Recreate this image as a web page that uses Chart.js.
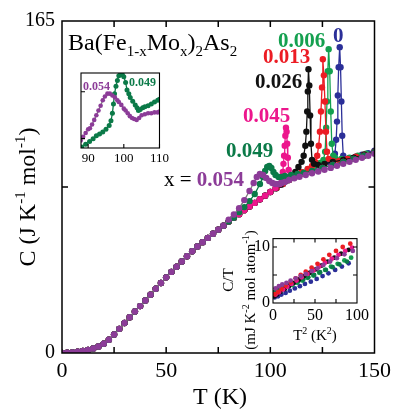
<!DOCTYPE html>
<html><head><meta charset="utf-8">
<script src="https://cdn.jsdelivr.net/npm/chart.js@4"></script>
<style>
html,body{margin:0;padding:0;background:#fff;}
#wrap{position:relative;width:396px;height:412px;overflow:hidden;}
canvas{position:absolute;}
</style></head><body>
<div id="wrap">
<canvas id="main" width="396" height="412" style="left:0;top:0;width:396px;height:412px"></canvas>
<canvas id="ins1" width="106" height="106" style="left:66px;top:64px;width:106px;height:106px"></canvas>
<canvas id="ins2" width="150" height="100" style="left:222px;top:226px;width:150px;height:100px"></canvas>
</div>
<script>
const FONT = '"Liberation Serif","Times New Roman",serif';

// ---- main panel: common low-T lattice curve (T in K, C in J/K/mol) ----
const baseT = [0,2.5,5,7.5,10,12.5,15,17.5,20,22.5,25,27.5,30,32.5,35,37.5,40,42.5,45,47.5,50,52.5,55,57.5,60,62.5,65,67.5,70,72.5,75,77.5,80,82.5,85];
const baseC = [0,0.1,0.3,0.6,1.0,1.5,2.2,3.2,4.6,6.6,9.2,12.0,14.9,17.8,20.6,23.3,26.1,29.0,31.9,34.8,37.6,40.3,42.9,45.5,48.1,50.6,52.9,55.1,57.2,59.3,61.3,63.3,65.3,67.2,69.0];

// ---- per-composition parts above the common curve ----
const x054T = [80,82.5,85,87.5,90,92,93.5,95,96.5,98,99.5,101,102.5,104,105.5,107,109,111.5,114,117,120,123,126,129,132,135,138,141,144,147,150];
const x054C = [66.3,68.8,72,76,80.5,84.5,87.5,89,88.5,87,85.5,84.5,84,84,84.5,85,86,86.8,87.6,88.5,89.3,90.2,91.1,92,93,94,95,96,97,98,99];
const x049T = [85,87.5,90,92.5,95,96.5,97.5,98.5,99.5,100.5,101.5,102.5,104,105.5,107,110,113,116,120,125,130,135,140,145,150];
const x049C = [70,72.5,75.5,79,84,87.5,90.5,92.5,93,92,90,88.5,87.5,87.5,88,88.5,89,89.5,90.5,92,93.5,95,96.5,98,99.8];
const x045T = [87.5,90,92.5,95,97.5,100,102.5,104.5,105.5,106,106.3,106.6,106.9,107.2,107.5,107.8,108.1,108.4,108.8,109.5,111,113,116,120,125,130,135,140,145,150];
const x045C = [71,72.8,74.6,76.4,78.2,80,82,84,86.5,90,94,98,103,108,112,110,104,97,91,88,87.5,88,89,90.5,92,93.5,95,96.5,98,99.8];
const x026T = [87.5,90,92.5,95,97.5,100,102.5,105,107.5,110,112,113.5,115,116,116.8,117.3,117.7,118,118.3,118.7,119.1,119.5,120,121,123,126,130,135,140,145,150];
const x026C = [71,72.8,74.6,76.4,78.2,80,81.8,83.6,85.5,87.5,90,92.5,95,98,103,110,120,130,141,133,118,104,96,94,93.5,94,95,96,97,98.5,100];
const x013T = [87.5,90,92.5,95,97.5,100,103,106,109,112,115,118,120,121.5,122.5,123.2,123.8,124.3,124.8,125.2,125.7,126.2,126.7,127.2,128,130,133,137,141,145,150];
const x013C = [71,72.8,74.6,76.4,78.2,80,82,84,86,88,89.8,91.5,93,95,98,103,110,120,132,146,138,125,110,100,96.5,95.5,95.5,96.5,97.5,98.5,100];
const x006T = [87.5,90,92.5,95,97.5,100,103,106,109,112,115,118,121,124,125.5,126.3,126.8,127.2,127.6,128,128.5,129,129.5,130.2,131,134,138,142,146,150];
const x006C = [71,72.8,74.6,76.4,78.2,80,82,84,86,88,89.8,91.3,92.8,94.5,96,100,112,125,140,151,140,120,104,98,97,96.5,97,98,99,100];
const x000T = [87.5,90,92.5,95,97.5,100,103,106,109,112,115,118,121,125,128,130,131,131.6,132,132.4,132.8,133.3,133.7,134.1,134.5,135,136,138,141,144,147,150];
const x000C = [71,72.8,74.6,76.4,78.2,80,82,84,86,88,89.8,91.3,92.5,93.8,95,96.5,99,106,115,128,142,152,142,125,108,98,96.5,96.5,97.5,98.5,99.3,100.5];

const xTicks = [0,50,100,150];
const yTicks = [0,165];

// ---- inset 1 (0.049 and 0.054 near the anomaly) ----
const i1gT = [88.2,89.3,90.4,91.4,92.3,93.2,94.1,95,95.9,96.4,96.8,97.1,97.4,97.8,98.2,98.6,99.1,99.6,100,100.5,100.9,101.4,101.8,102.5,103.2,103.7,104.1,104.6,105.3,105.9,106.8,107.7,108.6,109.5,110];
const i1gC = [84.1,84.4,84.7,85,85.3,85.5,85.7,86,86.4,86.9,87.7,88.7,89.8,90.6,91.2,91.7,91.9,91.8,91.6,91,90.2,89.8,89.4,89,88.6,88.3,88,88.1,88.3,88.4,88.5,88.7,88.9,89.1,89.2];
const i1pT = [87.9,88.6,89.3,90,90.5,91.1,91.7,92.3,92.9,93.5,94.1,94.7,95.4,96.1,96.8,97.5,98.2,98.6,99.3,100,100.5,101.1,101.7,102.3,102.9,103.6,104.3,105,105.9,106.8,107.7,108.6,109.5,110];
const i1pC = [84.8,85.2,85.6,86,86.1,86.5,87,87.5,88,88.5,89.1,89.5,89.8,89.8,89.6,89.4,89.1,88.9,88.6,88.2,88,87.7,87.4,87.2,87.1,87,87.2,87.5,87.6,87.7,87.7,87.8,87.8,87.9];

// ---- inset 2 (C/T vs T^2) ----
const i2T_054 = [3,7,11,16,21,27,33,39,46,53,60,68,76,85,95];
const i2C_054 = [2.6,3.0,3.3,3.6,4.0,4.4,4.8,5.2,5.7,6.2,6.8,7.4,8.0,8.7,9.3];
const i2T_013 = [2,6,10,15,21,27,33,39,46,53,60,67,75,83,92];
const i2C_013 = [1.6,2.0,2.5,3.1,3.7,4.4,5.0,5.6,6.3,7.0,7.8,8.6,9.3,10.0,10.6];
const i2T_045 = [3,7,12,17,22,28,34,41,48,55,62,70,78,86,94];
const i2C_045 = [1.5,1.9,2.4,2.9,3.4,4.0,4.6,5.2,5.8,6.5,7.2,7.9,8.6,9.3,9.9];
const i2T_026 = [2,5,9,14,19,25,31,37,44,51,58,65,73,81,90];
const i2C_026 = [1.2,1.5,2.0,2.5,3.0,3.6,4.2,4.8,5.4,6.0,6.7,7.4,8.1,8.8,9.5];
const i2T_049 = [2,6,10,14,19,24,30,36,42,49,56,63,71,79,88];
const i2C_049 = [2.0,2.3,2.6,2.9,3.2,3.5,3.9,4.2,4.6,5.0,5.5,5.9,6.4,6.9,7.4];
const i2T_006 = [3,8,13,18,23,29,35,41,48,55,62,69,77,85,93];
const i2C_006 = [1.8,2.1,2.5,2.9,3.2,3.6,4.0,4.5,4.9,5.4,5.9,6.5,7.0,7.6,8.1];
const i2T_000 = [2,6,10,15,20,26,32,38,45,52,59,66,74,82,90];
const i2C_000 = [1.0,1.2,1.5,1.8,2.2,2.6,3.0,3.4,3.8,4.3,4.8,5.3,5.9,6.5,7.1];

const COL = {x000:'#2b2f98', x006:'#14a04f', x013:'#ec1c24', x026:'#111111', x045:'#ec168c', x049:'#0b7a48', x054:'#8c3c98', gray:'#7b7b7b'};

function withBase(cut, T, C){
  const t=[], c=[];
  baseT.forEach((v,i)=>{ if(v<=cut){ t.push(v); c.push(baseC[i]); } });
  return [t.concat(T), c.concat(C)];
}
function ds(T, C, color, line, r, showLine){
  return {data:T.map((t,i)=>({x:t,y:C[i]})), borderColor:line||color, backgroundColor:color,
    pointBackgroundColor:color, pointBorderColor:color, pointBorderWidth:0, pointRadius:r,
    borderWidth:1.3, showLine:showLine!==false, tension:0};
}
function rich(ctx, x, y, parts, align, rot){
  ctx.save(); ctx.translate(x,y); if(rot) ctx.rotate(rot);
  ctx.textBaseline='alphabetic'; ctx.textAlign='left';
  let w=0;
  parts.forEach(p=>{ ctx.font=(p[3]?'bold ':'')+p[1]+'px '+FONT; w+=ctx.measureText(p[0]).width; });
  let cx = align==='center' ? -w/2 : 0;
  parts.forEach(p=>{ ctx.font=(p[3]?'bold ':'')+p[1]+'px '+FONT; ctx.fillStyle=p[4]||'#000';
    ctx.fillText(p[0],cx,p[2]); cx+=ctx.measureText(p[0]).width; });
  ctx.restore();
}
function frameTicks(chart, xs, ys, len, lw, both){
  const {ctx, chartArea:a, scales:{x,y}} = chart;
  ctx.save(); ctx.strokeStyle='#000'; ctx.lineWidth=lw; ctx.beginPath();
  xs.forEach(v=>{ const p=x.getPixelForValue(v); ctx.moveTo(p,a.bottom); ctx.lineTo(p,a.bottom-len); if(both){ctx.moveTo(p,a.top); ctx.lineTo(p,a.top+len);} });
  ys.forEach(v=>{ const p=y.getPixelForValue(v); ctx.moveTo(a.left,p); ctx.lineTo(a.left+len,p); if(both){ctx.moveTo(a.right,p); ctx.lineTo(a.right-len,p);} });
  ctx.stroke();
  ctx.strokeRect(a.left,a.top,a.width,a.height);
  ctx.restore();
}
const whiteBg = {id:'whiteBg', beforeDraw(c){ const a=c.chartArea; c.ctx.save(); c.ctx.fillStyle='#fff'; c.ctx.fillRect(a.left,a.top,a.width,a.height); c.ctx.restore(); }};

// ---------------- main chart ----------------
const mainSets = [
  [withBase(77.5,x054T,x054C), COL.x054, COL.gray],
  [withBase(82.5,x049T,x049C), COL.x049],
  [withBase(85,x045T,x045C), COL.x045],
  [withBase(85,x026T,x026C), COL.x026],
  [withBase(85,x013T,x013C), COL.x013],
  [withBase(85,x006T,x006C), COL.x006],
  [withBase(85,x000T,x000C), COL.x000]
].map(s=>ds(s[0][0], s[0][1], s[1], s[2], 3.2));

const mainDeco = {id:'mainDeco', afterDraw(c){
  const ctx=c.ctx;
  frameTicks(c,[25,50,75,100,125],[82.5],6,1.5,true);
  // title formula
  rich(ctx,68,50,[['Ba(Fe',24,0],['1-x',15,6],['Mo',24,0],['x',15,6],[')',24,0],['2',15,6],['As',24,0],['2',15,6]]);
  // axis titles
  rich(ctx,35,197,[['C (J K',24,0],['-1',15,-10],[' mol',24,0],['-1',15,-10],[')',24,0]],'center',-Math.PI/2);
  rich(ctx,220,404,[['T (K)',24,0]],'center');
  // composition labels
  rich(ctx,333,42,[['0',21,0,true,COL.x000]]);
  rich(ctx,278,47,[['0.006',21,0,true,COL.x006]]);
  rich(ctx,263,63,[['0.013',21,0,true,COL.x013]]);
  rich(ctx,255,88,[['0.026',21,0,true,COL.x026]]);
  rich(ctx,243,122,[['0.045',21,0,true,COL.x045]]);
  rich(ctx,226,157,[['0.049',21,0,true,COL.x049]]);
  rich(ctx,164,186,[['x = ',21,0,false,'#000'],['0.054',21,0,true,COL.x054]]);
  // inset 2 axis titles
  rich(ctx,233,280,[['C/T',15,0]],'center',-Math.PI/2);
  rich(ctx,255,290,[['(mJ K',15,0],['-2',10,-6],[' mol atom',15,0],['-1',10,-6],[')',15,0]],'center',-Math.PI/2);
  rich(ctx,315,340,[['T',15,0],['2',10,-6],[' (K',15,0],['2',10,-6],[')',15,0]],'center');
}};

new Chart(document.getElementById('main'),{
  type:'scatter',
  data:{datasets:mainSets},
  options:{animation:false,responsive:false,
    layout:{padding:{left:0,right:19,top:21,bottom:0}},
    plugins:{legend:{display:false},tooltip:{enabled:false}},
    scales:{
      x:{type:'linear',min:0,max:150,
        afterBuildTicks:s=>{s.ticks=xTicks.map(v=>({value:v}));},
        grid:{display:false,drawTicks:false},border:{display:false},
        ticks:{font:{family:FONT,size:22},color:'#000',padding:5,maxRotation:0,autoSkip:false},
        afterFit:s=>{s.height=59;}},
      y:{type:'linear',min:0,max:165,
        afterBuildTicks:s=>{s.ticks=yTicks.map(v=>({value:v}));},
        grid:{display:false,drawTicks:false},border:{display:false},
        ticks:{font:{family:FONT,size:20},color:'#000',padding:7,autoSkip:false},
        afterFit:s=>{s.width=62;}}
    }},
  plugins:[mainDeco]
});

// ---------------- inset 1 ----------------
const ins1Deco = {id:'ins1Deco', afterDraw(c){
  frameTicks(c,[90,100,110],[85,90],4,1.1,false);
  rich(c.ctx,17,26,[['0.054',12,0,true,COL.x054]]);
  rich(c.ctx,63,22,[['0.049',12,0,true,COL.x049]]);
}};
new Chart(document.getElementById('ins1'),{
  type:'scatter',
  data:{datasets:[ds(i1pT,i1pC,COL.x054,COL.gray,2.3), ds(i1gT,i1gC,COL.x049,null,2.5)]},
  options:{animation:false,responsive:false,
    layout:{padding:{left:15,right:12,top:9,bottom:0}},
    plugins:{legend:{display:false},tooltip:{enabled:false}},
    scales:{
      x:{type:'linear',min:88,max:110,
        afterBuildTicks:s=>{s.ticks=[90,100,110].map(v=>({value:v}));},
        grid:{display:false,drawTicks:false},border:{display:false},
        ticks:{font:{family:FONT,size:13},color:'#000',padding:3,maxRotation:0,autoSkip:false},
        afterFit:s=>{s.height=22;}},
      y:{type:'linear',min:84,max:92,
        grid:{display:false,drawTicks:false},border:{display:false},
        ticks:{display:false},
        afterFit:s=>{s.width=0;}}
    }},
  plugins:[whiteBg, ins1Deco]
});

// ---------------- inset 2 ----------------
const ins2Deco = {id:'ins2Deco', afterDraw(c){ frameTicks(c,[25,50,75],[5,10],4,1.1,true); }};
new Chart(document.getElementById('ins2'),{
  type:'scatter',
  data:{datasets:[
    ds(i2T_054,i2C_054,COL.x054,null,2.4,false),
    ds(i2T_013,i2C_013,COL.x013,null,2.4,false),
    ds(i2T_045,i2C_045,COL.x045,null,2.4,false),
    ds(i2T_026,i2C_026,COL.x026,null,2.4,false),
    ds(i2T_049,i2C_049,COL.x049,null,2.4,false),
    ds(i2T_006,i2C_006,COL.x006,null,2.4,false),
    ds(i2T_000,i2C_000,COL.x000,null,2.4,false)
  ]},
  options:{animation:false,responsive:false,
    layout:{padding:{left:0,right:12,top:8,bottom:0}},
    plugins:{legend:{display:false},tooltip:{enabled:false}},
    scales:{
      x:{type:'linear',min:0,max:100,
        afterBuildTicks:s=>{s.ticks=[0,50,100].map(v=>({value:v}));},
        grid:{display:false,drawTicks:false},border:{display:false},
        ticks:{font:{family:FONT,size:16},color:'#000',padding:3,maxRotation:0,autoSkip:false},
        afterFit:s=>{s.height=23;}},
      y:{type:'linear',min:0,max:11.5,
        afterBuildTicks:s=>{s.ticks=[0,10].map(v=>({value:v}));},
        grid:{display:false,drawTicks:false},border:{display:false},
        ticks:{font:{family:FONT,size:16},color:'#000',padding:3,autoSkip:false},
        afterFit:s=>{s.width=51;}}
    }},
  plugins:[whiteBg, ins2Deco]
});
</script>
</body></html>
